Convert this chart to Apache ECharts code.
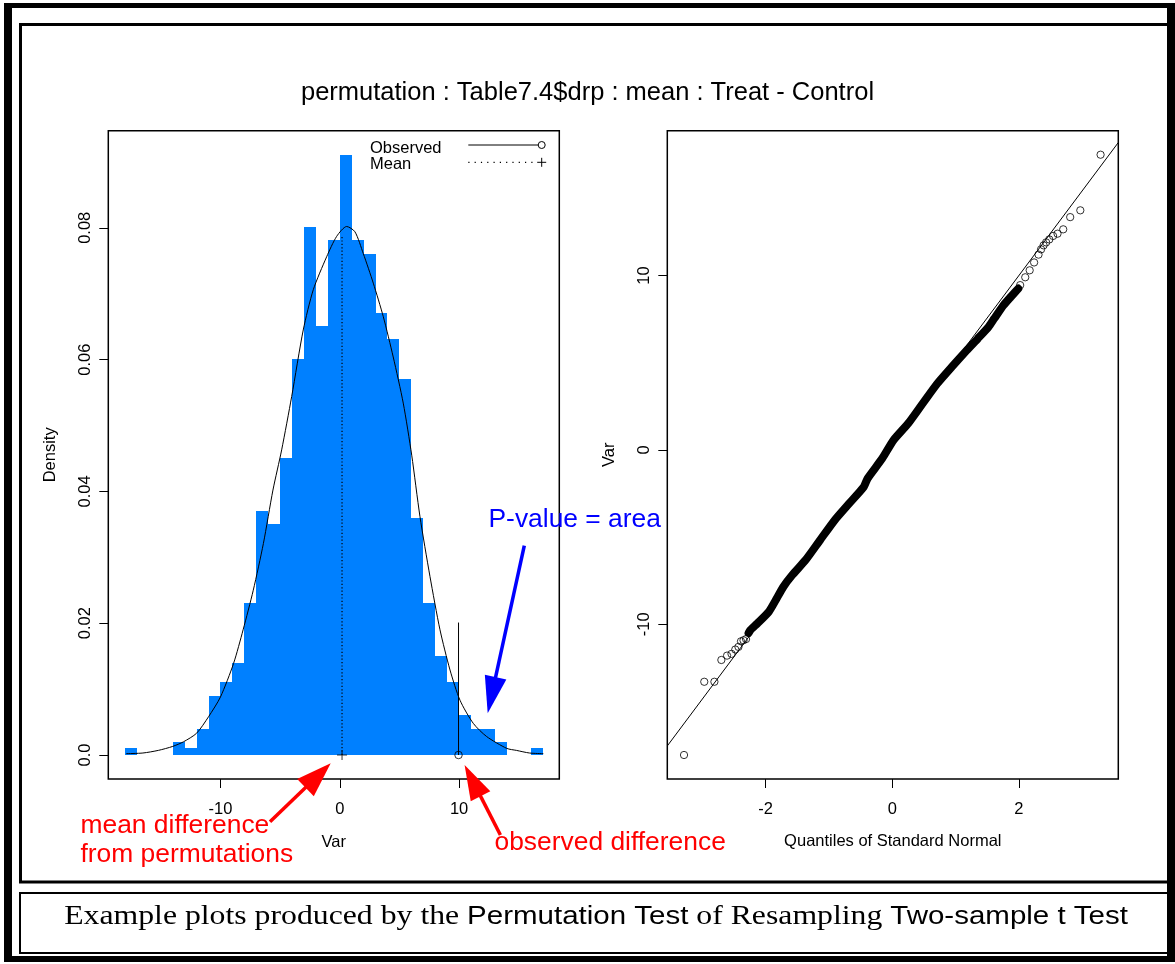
<!DOCTYPE html>
<html>
<head>
<meta charset="utf-8">
<title>Permutation test plots</title>
<script src="https://cdn.jsdelivr.net/npm/echarts@6/dist/echarts.min.js"></script>
<style>
  html, body { margin: 0; padding: 0; background: #ffffff; }
  #chart { width: 1175px; height: 964px; }
</style>
</head>
<body>
<div id="chart"></div>
<script>
// ---------------------------------------------------------------------------
// Data: permutation distribution of mean(Treat) - mean(Control), Table7.4$drp
// ---------------------------------------------------------------------------

// Histogram: unit-width bins starting at -18
const binStart = -18;
const binWidth = 1;
const binCounts = [1, 0, 0, 0, 2, 1, 4, 9, 11, 14, 23, 37, 35, 45, 60, 80, 65, 78,
                   91, 78, 76, 67, 63, 57, 36, 23, 15, 11, 6, 4, 4, 2, 0, 0, 1];

// Density estimate drawn over the histogram
const densityX = [-17.9, -16.5, -15.2, -14.0, -13.1, -12.0, -11.0, -10.0, -8.9, -8.1,
                  -7.25, -6.4, -5.6, -4.87, -4.03, -3.06, -2.22, -1.1, -0.26, 0.58,
                  1.27, 1.97, 2.81, 3.65, 4.48, 5.32, 6.03, 6.72, 7.56, 8.4,
                  9.24, 10.08, 11.19, 12.31, 14.0, 14.8, 15.9, 17.06];
const densityY = [0.0002, 0.0003, 0.0007, 0.0013, 0.0020, 0.0033, 0.0058, 0.0088, 0.0139, 0.019,
                  0.025, 0.0321, 0.0402, 0.0463, 0.0544, 0.0645, 0.0706, 0.0756, 0.0787, 0.0802,
                  0.0794, 0.0761, 0.0716, 0.0665, 0.0604, 0.0534, 0.0455, 0.0362, 0.0271, 0.019,
                  0.0129, 0.0083, 0.0048, 0.0028, 0.001, 0.0007, 0.0003, 0.0002];

// Observed statistic and mean of the permuted statistics
const observedDiff = 9.954;
const observedLineTop = 0.0201;
const permMean = 0.19;
const meanLineTop = 0.0786;

// Histogram axes
const histXRange = [-19.4, 18.4];
const histYRange = [-0.003644, 0.094735];
const histXTicks = [-10, 0, 10];
const histXTickLabels = ['-10', '0', '10'];
const histYTicks = [0, 0.02, 0.04, 0.06, 0.08];
const histYTickLabels = ['0.0', '0.02', '0.04', '0.06', '0.08'];

// Normal quantile plot axes
const qqXRange = [-3.554, 3.570];
const qqYRange = [-18.877, 18.307];
const qqXTicks = [-2, 0, 2];
const qqXTickLabels = ['-2', '0', '2'];
const qqYTicks = [-10, 0, 10];
const qqYTickLabels = ['-10', '0', '10'];

// Isolated points in the lower and upper tails (normal quantile, value)
const qqLowTailX = [-3.29, -2.97, -2.81, -2.70, -2.61, -2.54, -2.48, -2.43, -2.39, -2.35, -2.31];
const qqLowTailY = [-17.5, -13.3, -13.3, -12.05, -11.8, -11.7, -11.45, -11.3, -10.98, -10.92, -10.85];
const qqHighTailX = [2.02, 2.10, 2.17, 2.24, 2.31, 2.35, 2.39, 2.43, 2.48, 2.54, 2.61, 2.70, 2.81, 2.97, 3.29];
const qqHighTailY = [9.45, 9.9, 10.3, 10.75, 11.2, 11.5, 11.73, 11.9, 12.07, 12.27, 12.4, 12.65, 13.35, 13.74, 16.93];

// Densely packed central points, traced along their centre
const qqBodyX = [-2.27, -2.24, -2.13, -1.95, -1.84, -1.72, -1.58, -1.37, -1.14, -0.91,
                 -0.68, -0.45, -0.39, -0.16, 0.02, 0.25, 0.48, 0.71, 0.94, 1.175,
                 1.35, 1.52, 1.61, 1.755, 1.87, 1.99];
const qqBodyY = [-10.5, -10.33, -9.95, -9.28, -8.61, -7.85, -7.18, -6.32, -5.17, -4.03,
                 -3.07, -2.12, -1.64, -0.5, 0.56, 1.51, 2.66, 3.80, 4.76, 5.71,
                 6.38, 7.05, 7.53, 8.29, 8.77, 9.25];

// Reference line through the quartiles
const qqLineIntercept = 0.285;
const qqLineSlope = 4.858;

// ---------------------------------------------------------------------------
// Styling
// ---------------------------------------------------------------------------
const SANS = '"Liberation Sans", Arial, Helvetica, sans-serif';
const SERIF = '"Liberation Serif", "Times New Roman", Times, serif';
const BAR_BLUE = '#0080ff';
const BASE_FS = 16.5;
const NOTE_FS = 26.4;

const totalResamples = binCounts.reduce((a, b) => a + b, 0);
const histData = binCounts.map((c, i) => [
  binStart + i * binWidth,
  binStart + (i + 1) * binWidth,
  c / totalResamples / binWidth
]);
const densityData = densityX.map((x, i) => [x, densityY[i]]);
const zip = (xs, ys) => xs.map((x, i) => [x, ys[i]]);

function labelLookup(ticks, labels) {
  return function (v) {
    for (let i = 0; i < ticks.length; i++) {
      if (Math.abs(ticks[i] - v) < 1e-9) return labels[i];
    }
    return '';
  };
}

function axisCommon(ticks, labels, extra) {
  return Object.assign({
    type: 'value',
    axisLine: { show: false, onZero: false },
    splitLine: { show: false },
    axisTick: {
      show: true, inside: false, length: 9, customValues: ticks,
      lineStyle: { color: '#000', width: 1 }
    },
    axisLabel: {
      show: true, customValues: ticks, formatter: labelLookup(ticks, labels),
      fontFamily: SANS, fontSize: BASE_FS, color: '#000'
    },
    nameTextStyle: { fontFamily: SANS, fontSize: BASE_FS, color: '#000', verticalAlign: 'middle', align: 'center' }
  }, extra);
}

// arrow made of a shaft and a filled triangular head
function arrow(tail, tip, headLen, headWidth, shaftWidth, color) {
  const dx = tip[0] - tail[0], dy = tip[1] - tail[1];
  const len = Math.sqrt(dx * dx + dy * dy);
  const ux = dx / len, uy = dy / len;
  const bx = tip[0] - ux * headLen, by = tip[1] - uy * headLen;
  const px = -uy * headWidth / 2, py = ux * headWidth / 2;
  return [
    { type: 'line', z: 100, shape: { x1: tail[0], y1: tail[1], x2: bx + ux * 2, y2: by + uy * 2 },
      style: { stroke: color, lineWidth: shaftWidth } },
    { type: 'polygon', z: 100, shape: { points: [[tip[0], tip[1]], [bx + px, by + py], [bx - px, by - py]] },
      style: { fill: color } }
  ];
}

const crossSymbol = 'path://M4.5,0 H5.5 V4.5 H10 V5.5 H5.5 V10 H4.5 V5.5 H0 V4.5 H4.5 Z';

const option = {
  animation: false,
  backgroundColor: '#ffffff',
  title: {
    text: 'permutation : Table7.4$drp : mean : Treat - Control',
    left: 'center',
    top: 75,
    textStyle: { fontFamily: SANS, fontSize: 25.5, fontWeight: 'normal', color: '#000' }
  },
  grid: [
    { left: 108.3, top: 130.7, width: 451, height: 648.3, show: true,
      borderColor: '#000', borderWidth: 1.5, backgroundColor: 'transparent' },
    { left: 667.3, top: 130.7, width: 451, height: 648.3, show: true,
      borderColor: '#000', borderWidth: 1.5, backgroundColor: 'transparent' }
  ],
  xAxis: [
    axisCommon(histXTicks, histXTickLabels, {
      gridIndex: 0, min: histXRange[0], max: histXRange[1],
      name: 'Var', nameLocation: 'middle', nameGap: 63
    }),
    axisCommon(qqXTicks, qqXTickLabels, {
      gridIndex: 1, min: qqXRange[0], max: qqXRange[1],
      name: 'Quantiles of Standard Normal', nameLocation: 'middle', nameGap: 62
    })
  ],
  yAxis: [
    axisCommon(histYTicks, histYTickLabels, {
      gridIndex: 0, min: histYRange[0], max: histYRange[1],
      name: 'Density', nameLocation: 'middle', nameGap: 58
    }),
    axisCommon(qqYTicks, qqYTickLabels, {
      gridIndex: 1, min: qqYRange[0], max: qqYRange[1],
      name: 'Var', nameLocation: 'middle', nameGap: 57.5
    })
  ],
  series: [
    {
      name: 'histogram', type: 'custom', xAxisIndex: 0, yAxisIndex: 0,
      data: histData, encode: { x: [0, 1], y: 2 }, silent: true, z: 1,
      renderItem: function (params, api) {
        const p0 = api.coord([api.value(0), api.value(2)]);
        const p1 = api.coord([api.value(1), 0]);
        const x0 = Math.round(p0[0]), x1 = Math.round(p1[0]);
        const y0 = Math.round(p0[1]), y1 = Math.round(p1[1]);
        return {
          type: 'rect',
          shape: { x: x0, y: y0, width: x1 - x0, height: y1 - y0 },
          style: { fill: BAR_BLUE }
        };
      }
    },
    {
      name: 'density', type: 'line', xAxisIndex: 0, yAxisIndex: 0, z: 3,
      data: densityData, showSymbol: false, symbol: 'none', smooth: 0.25,
      lineStyle: { color: '#000', width: 1 }, silent: true
    },
    {
      name: 'Mean', type: 'line', xAxisIndex: 0, yAxisIndex: 0, z: 3,
      data: [[permMean, 0], [permMean, meanLineTop]], symbol: 'none',
      lineStyle: { color: '#000', width: 1.2, type: [1.2, 2.2] }, silent: true
    },
    {
      name: 'Observed', type: 'line', xAxisIndex: 0, yAxisIndex: 0, z: 3,
      data: [[observedDiff, 0], [observedDiff, observedLineTop]], symbol: 'none',
      lineStyle: { color: '#000', width: 1 }, silent: true
    },
    {
      name: 'Observed point', type: 'scatter', xAxisIndex: 0, yAxisIndex: 0, z: 4,
      data: [[observedDiff, 0]], symbol: 'circle', symbolSize: 7.5,
      itemStyle: { color: 'rgba(0,0,0,0)', borderColor: '#000', borderWidth: 1 }, silent: true
    },
    {
      name: 'Mean point', type: 'scatter', xAxisIndex: 0, yAxisIndex: 0, z: 4,
      data: [[permMean, 0]], symbol: crossSymbol, symbolSize: 10,
      itemStyle: { color: '#000' }, silent: true
    },
    {
      name: 'qqline', type: 'line', xAxisIndex: 1, yAxisIndex: 1, z: 2,
      data: [
        [qqXRange[0], qqLineIntercept + qqLineSlope * qqXRange[0]],
        [qqXRange[1], qqLineIntercept + qqLineSlope * qqXRange[1]]
      ],
      symbol: 'none', lineStyle: { color: '#000', width: 1 }, silent: true
    },
    {
      name: 'qq body', type: 'line', xAxisIndex: 1, yAxisIndex: 1, z: 3,
      data: zip(qqBodyX, qqBodyY), symbol: 'none', smooth: 0.2,
      lineStyle: { color: '#000', width: 8, cap: 'round', join: 'round' }, silent: true
    },
    {
      name: 'qq points', type: 'scatter', xAxisIndex: 1, yAxisIndex: 1, z: 4,
      data: zip(qqLowTailX, qqLowTailY).concat(zip(qqHighTailX, qqHighTailY)),
      symbol: 'circle', symbolSize: 7.3,
      itemStyle: { color: 'rgba(0,0,0,0)', borderColor: '#000', borderWidth: 1 }, silent: true
    }
  ],
  graphic: [
    // page frames
    { type: 'rect', shape: { x: 4, y: 3, width: 1171, height: 5 }, style: { fill: '#000' } },
    { type: 'rect', shape: { x: 4, y: 3, width: 8, height: 959 }, style: { fill: '#000' } },
    { type: 'rect', shape: { x: 1167, y: 3, width: 8, height: 959 }, style: { fill: '#000' } },
    { type: 'rect', shape: { x: 4, y: 956, width: 1171, height: 6 }, style: { fill: '#000' } },
    { type: 'rect', shape: { x: 20.5, y: 24.5, width: 1148, height: 857.5 },
      style: { fill: 'none', stroke: '#000', lineWidth: 3 } },
    { type: 'rect', shape: { x: 20, y: 893, width: 1149, height: 60 },
      style: { fill: 'none', stroke: '#000', lineWidth: 2 } },

    // legend
    { type: 'text', x: 370, y: 148, style: { text: 'Observed', fontFamily: SANS, fontSize: BASE_FS,
      fill: '#000', verticalAlign: 'middle' } },
    { type: 'text', x: 370, y: 164.5, style: { text: 'Mean', fontFamily: SANS, fontSize: BASE_FS,
      fill: '#000', verticalAlign: 'middle' } },
    { type: 'line', shape: { x1: 468.3, y1: 145, x2: 538.2, y2: 145 }, style: { stroke: '#000', lineWidth: 1 } },
    { type: 'circle', shape: { cx: 541.7, cy: 145, r: 3.5 }, style: { fill: 'none', stroke: '#000', lineWidth: 1 } },
    { type: 'line', shape: { x1: 468.3, y1: 162.3, x2: 537, y2: 162.3 },
      style: { stroke: '#000', lineWidth: 1.2, lineDash: [1.2, 5.1] } },
    { type: 'line', shape: { x1: 537.2, y1: 162.3, x2: 546.2, y2: 162.3 }, style: { stroke: '#000', lineWidth: 1 } },
    { type: 'line', shape: { x1: 541.7, y1: 157.8, x2: 541.7, y2: 166.8 }, style: { stroke: '#000', lineWidth: 1 } },

    // annotations
    { type: 'text', x: 488.5, y: 520, z: 100, style: { text: 'P-value = area', fontFamily: SANS, fontSize: NOTE_FS,
      fill: '#0000ff', verticalAlign: 'middle' } },
    { type: 'text', x: 80.5, y: 826, z: 100, style: { text: 'mean difference', fontFamily: SANS, fontSize: NOTE_FS,
      fill: '#ff0000', verticalAlign: 'middle' } },
    { type: 'text', x: 80.5, y: 855, z: 100, style: { text: 'from permutations', fontFamily: SANS, fontSize: NOTE_FS,
      fill: '#ff0000', verticalAlign: 'middle' } },
    { type: 'text', x: 494.5, y: 843, z: 100, style: { text: 'observed difference', fontFamily: SANS, fontSize: NOTE_FS,
      fill: '#ff0000', verticalAlign: 'middle' } }
  ]
    .concat(arrow([524.3, 545.7], [487.7, 713.3], 37, 22, 3.5, '#0000ff'))
    .concat(arrow([270, 821.7], [330.7, 763.3], 35, 24, 3.5, '#ff0000'))
    .concat(arrow([500.4, 835], [464.6, 765], 35, 22, 3.5, '#ff0000'))
    .concat([
      // caption
      { type: 'text', x: 596, y: 917, scaleX: 1.134, style: {
          text: '{s|Example plots produced by the }{h|Permutation Test}{s| of Resampling }{h|Two-sample t Test}',
          align: 'center', verticalAlign: 'middle',
          rich: {
            s: { fontFamily: SERIF, fontSize: 28, fill: '#000' },
            h: { fontFamily: SANS, fontSize: 26, fill: '#000' }
          }
      } }
    ])
};

// rotate the y tick labels so they run along the axis
option.yAxis.forEach(function (ax) {
  ax.axisLabel.rotate = 90;
  ax.axisLabel.margin = 14;
});
option.xAxis.forEach(function (ax) {
  ax.axisLabel.margin = 22;
});

const chart = echarts.init(document.getElementById('chart'), null, { renderer: 'canvas' });
chart.setOption(option);
</script>
</body>
</html>
